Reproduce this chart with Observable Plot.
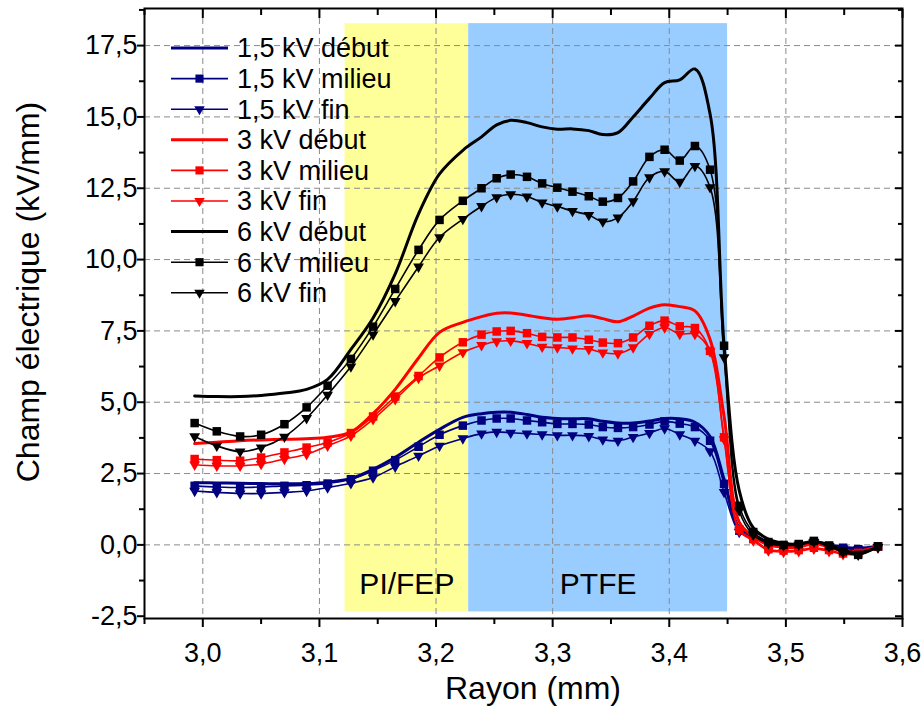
<!DOCTYPE html>
<html><head><meta charset="utf-8">
<script src="https://cdn.jsdelivr.net/npm/d3@7"></script>
<script src="https://cdn.jsdelivr.net/npm/@observablehq/plot@0.6"></script>
<style>body{margin:0;background:#fff;} #chart svg{display:block;}</style>
</head><body><div id="chart"></div>
<script>
// Radius (mm) of sample points
const radius = [2.993, 3.012, 3.032, 3.050, 3.070, 3.089, 3.107, 3.127, 3.146, 3.165,
  3.185, 3.203, 3.223, 3.239, 3.252, 3.264, 3.278, 3.291, 3.304, 3.317,
  3.331, 3.343, 3.356, 3.369, 3.383, 3.396, 3.409, 3.422, 3.435, 3.447,
  3.460, 3.472, 3.485, 3.498, 3.511, 3.524, 3.537, 3.549, 3.562, 3.579];

const e15Debut = [2.18, 2.17, 2.16, 2.15, 2.14, 2.15, 2.2, 2.33, 2.65, 3.07,
  3.6, 4.05, 4.47, 4.6, 4.65, 4.65, 4.57, 4.47, 4.43, 4.42,
  4.42, 4.33, 4.27, 4.27, 4.34, 4.43, 4.42, 4.3, 3.8, 2.3,
  0.6, 0.35, 0.1, 0.0, -0.02, 0.1, 0.0, -0.08, -0.12, -0.05];
const e15Milieu = [2.07, 2.03, 2.01, 2.03, 2.07, 2.09, 2.15, 2.3, 2.6, 2.97,
  3.44, 3.86, 4.18, 4.36, 4.43, 4.43, 4.36, 4.30, 4.24, 4.24,
  4.22, 4.13, 4.1, 4.13, 4.22, 4.33, 4.25, 4.13, 3.65, 2.14,
  0.5, 0.3, 0.05, -0.05, -0.05, 0.1, -0.02, -0.1, -0.15, -0.06];
const e15Fin = [1.89, 1.84, 1.80, 1.80, 1.84, 1.89, 2.01, 2.16, 2.36, 2.74,
  3.12, 3.47, 3.73, 3.90, 3.96, 3.93, 3.90, 3.87, 3.84, 3.84,
  3.81, 3.69, 3.65, 3.78, 3.92, 4.08, 3.87, 3.65, 3.28, 1.85,
  0.45, 0.25, 0.0, -0.08, -0.06, 0.08, -0.04, -0.12, -0.16, -0.08];

const e3Debut = [3.55, 3.6, 3.65, 3.68, 3.7, 3.72, 3.77, 3.95, 4.6, 5.45,
  6.55, 7.45, 7.8, 8.0, 8.12, 8.13, 8.05, 7.96, 7.91, 7.96,
  8.03, 7.93, 7.82, 8.02, 8.3, 8.42, 8.35, 8.2, 7.2, 4.5,
  0.8, 0.3, 0.0, -0.08, -0.08, 0.05, -0.08, -0.2, -0.22, -0.05];
const e3Milieu = [3.01, 2.97, 2.95, 3.06, 3.24, 3.41, 3.59, 3.92, 4.5, 5.2,
  5.92, 6.57, 7.1, 7.37, 7.48, 7.5, 7.42, 7.29, 7.27, 7.27,
  7.19, 7.09, 7.07, 7.27, 7.68, 7.86, 7.66, 7.6, 6.8, 3.77,
  0.55, 0.2, -0.15, -0.2, -0.18, -0.1, -0.18, -0.3, -0.28, -0.06];
const e3Fin = [2.81, 2.77, 2.77, 2.83, 3.01, 3.18, 3.47, 3.82, 4.4, 5.1,
  5.85, 6.28, 6.75, 7.0, 7.13, 7.15, 7.07, 6.94, 6.92, 6.88,
  6.86, 6.74, 6.71, 6.92, 7.39, 7.62, 7.39, 7.39, 6.78, 3.7,
  0.5, 0.15, -0.2, -0.25, -0.22, -0.14, -0.22, -0.33, -0.32, -0.08];

const e6Debut = [5.22, 5.2, 5.2, 5.24, 5.32, 5.45, 5.8, 6.85, 7.95, 9.5,
  11.6, 13.0, 13.83, 14.3, 14.72, 14.88, 14.8, 14.65, 14.57, 14.58,
  14.52, 14.38, 14.45, 15.0, 15.65, 16.2, 16.3, 16.68, 15.1, 7.0,
  1.9, 0.6, 0.2, 0.05, 0.03, 0.12, 0.0, -0.18, -0.28, -0.08];
const e6Milieu = [4.27, 3.98, 3.80, 3.86, 4.23, 4.82, 5.58, 6.52, 7.65, 8.97,
  10.34, 11.39, 12.06, 12.5, 12.85, 12.98, 12.9, 12.67, 12.52, 12.38,
  12.22, 12.03, 12.16, 12.74, 13.6, 13.85, 13.47, 13.98, 13.15, 6.98,
  1.37, 0.45, 0.1, 0.0, 0.03, 0.14, -0.04, -0.22, -0.35, -0.05];
const e6Fin = [3.80, 3.47, 3.27, 3.41, 3.79, 4.44, 5.26, 6.25, 7.37, 8.54,
  9.75, 10.78, 11.42, 11.87, 12.18, 12.29, 12.21, 12.0, 11.86, 11.7,
  11.56, 11.33, 11.47, 12.04, 12.88, 13.09, 12.72, 13.28, 12.53, 6.57,
  1.2, 0.35, 0.05, -0.02, 0.0, 0.1, -0.06, -0.25, -0.35, -0.08];

const seriesNames = ["1,5 kV début", "1,5 kV milieu", "1,5 kV fin",
  "3 kV début", "3 kV milieu", "3 kV fin",
  "6 kV début", "6 kV milieu", "6 kV fin"];
const seriesValues = [e15Debut, e15Milieu, e15Fin, e3Debut, e3Milieu, e3Fin, e6Debut, e6Milieu, e6Fin];
const seriesColors = ["#000080", "#000080", "#000080", "#ff0000", "#ff0000", "#ff0000", "#000000", "#000000", "#000000"];
const seriesMarker = [null, "square", "triangle-down", null, "square", "triangle-down", null, "square", "triangle-down"];

// Material regions
const regionNames = ["PI/FEP", "PTFE"];
const regionStart = [3.122, 3.228];
const regionEnd = [3.228, 3.450];
const regionColors = ["#ffff99", "#99ccff"];
const regionBottom = -2.35, regionTop = 18.27, regionLabelY = -1.37;

const xTicks = [3.0, 3.1, 3.2, 3.3, 3.4, 3.5, 3.6];
const xMinor = [2.95, 3.05, 3.15, 3.25, 3.35, 3.45, 3.55];
const yTicks = [-2.5, 0, 2.5, 5, 7.5, 10, 12.5, 15, 17.5];
const yMinor = [-1.25, 1.25, 3.75, 6.25, 8.75, 11.25, 13.75, 16.25, 18.75];
const xGrid = [3.0, 3.1, 3.2, 3.3, 3.4, 3.5];
const yGrid = [0, 2.5, 5, 7.5, 10, 12.5, 15, 17.5];

const xTitle = "Rayon (mm)";
const yTitle = "Champ électrique (kV/mm)";

const fmt = d => d.toFixed(1).replace(".", ",");
const FONT = "'Liberation Sans', Arial, sans-serif";

const triDown = {
  draw(ctx, size) {
    const a = Math.sqrt(size * 4 / Math.sqrt(3));
    const h = a * Math.sqrt(3) / 2;
    ctx.moveTo(-a / 2, -h / 3);
    ctx.lineTo(a / 2, -h / 3);
    ctx.lineTo(0, 2 * h / 3);
    ctx.closePath();
  }
};

const regions = regionNames.map((n, i) => ({name: n, x1: regionStart[i], x2: regionEnd[i], color: regionColors[i]}));

const marks = [
  Plot.rect(regions, {x1: "x1", x2: "x2", y1: () => regionBottom, y2: () => regionTop, fill: "color"}),
  Plot.gridX(xGrid, {stroke: "#8a8a8a", strokeOpacity: 1, strokeDasharray: "6,4", strokeWidth: 1}),
  Plot.gridY(yGrid, {stroke: "#8a8a8a", strokeOpacity: 1, strokeDasharray: "6,4", strokeWidth: 1}),
  Plot.text(regions, {x: d => (d.x1 + d.x2) / 2, y: () => regionLabelY, text: "name", fontSize: 30, fill: "#000"})
];

seriesNames.forEach((name, s) => {
  const data = radius.map((x, i) => ({x, y: seriesValues[s][i]}));
  const isDebut = seriesMarker[s] === null;
  marks.push(Plot.line(data, {x: "x", y: "y", stroke: seriesColors[s], strokeWidth: isDebut ? 3 : 1.6, curve: "catmull-rom"}));
  if (!isDebut) {
    const sq = seriesMarker[s] === "square";
    marks.push(Plot.dot(data, {x: "x", y: "y", fill: seriesColors[s], stroke: "none",
      symbol: sq ? "square" : triDown, r: sq ? 4.8 : 4.0}));
  }
});

marks.push(
  Plot.frame({stroke: "#000", strokeWidth: 2}),
  Plot.axisX(xTicks, {anchor: "bottom", tickFormat: fmt, tickSize: 9, tickPadding: 15, fontSize: 27, strokeWidth: 2, label: null}),
  Plot.axisX(xMinor, {anchor: "bottom", text: null, tickSize: 6, strokeWidth: 2, label: null}),
  Plot.axisX(xTicks, {anchor: "top", text: null, tickSize: -9, strokeWidth: 2, label: null}),
  Plot.axisX(xMinor, {anchor: "top", text: null, tickSize: -6, strokeWidth: 2, label: null}),
  Plot.axisY(yTicks, {anchor: "left", tickFormat: fmt, tickSize: 7, tickPadding: 0, fontSize: 27, strokeWidth: 2, label: null}),
  Plot.axisY(yMinor, {anchor: "left", text: null, tickSize: 5, strokeWidth: 2, label: null}),
  Plot.axisY(yTicks, {anchor: "right", text: null, tickSize: -8, strokeWidth: 2, label: null}),
  Plot.axisY(yMinor, {anchor: "right", text: null, tickSize: -5, strokeWidth: 2, label: null})
);

const chart = Plot.plot({
  width: 921, height: 711,
  marginLeft: 144, marginRight: 19, marginTop: 8, marginBottom: 93,
  x: {domain: [2.95, 3.6]},
  y: {domain: [-2.58, 18.8]},
  style: {fontFamily: FONT, color: "#000", background: "#fff"},
  marks
});

const svg = d3.select(chart);

// Axis titles
svg.append("text").attr("x", 533).attr("y", 688).attr("dy", "0.35em")
  .attr("text-anchor", "middle").attr("font-family", FONT).attr("font-size", 32).attr("fill", "#000").text(xTitle);
svg.append("text").attr("transform", "translate(28,292) rotate(-90)").attr("dy", "0.35em")
  .attr("text-anchor", "middle").attr("font-family", FONT).attr("font-size", 32).attr("fill", "#000").text(yTitle);

// Legend (top-left, inside plot)
const lg = svg.append("g").attr("font-family", FONT).attr("font-size", 27).attr("text-anchor", "start");
seriesNames.forEach((name, i) => {
  const y = 48 + i * 30.6;
  const isDebut = seriesMarker[i] === null;
  lg.append("line").attr("x1", 171).attr("x2", 228).attr("y1", y).attr("y2", y)
    .attr("stroke", seriesColors[i]).attr("stroke-width", isDebut ? 3 : 1.6);
  if (!isDebut) {
    const sym = seriesMarker[i] === "square" ? d3.symbolSquare : triDown;
    const size = seriesMarker[i] === "square" ? Math.PI * 4.6 * 4.6 : Math.PI * 3.9 * 3.9;
    lg.append("path").attr("d", d3.symbol(sym, size)()).attr("transform", `translate(199.5,${y})`)
      .attr("fill", seriesColors[i]);
  }
  lg.append("text").attr("x", 237).attr("y", y).attr("dy", "0.35em")
    .attr("text-anchor", "start").attr("fill", "#000").text(name);
});

document.getElementById("chart").appendChild(chart);
</script></body></html>
